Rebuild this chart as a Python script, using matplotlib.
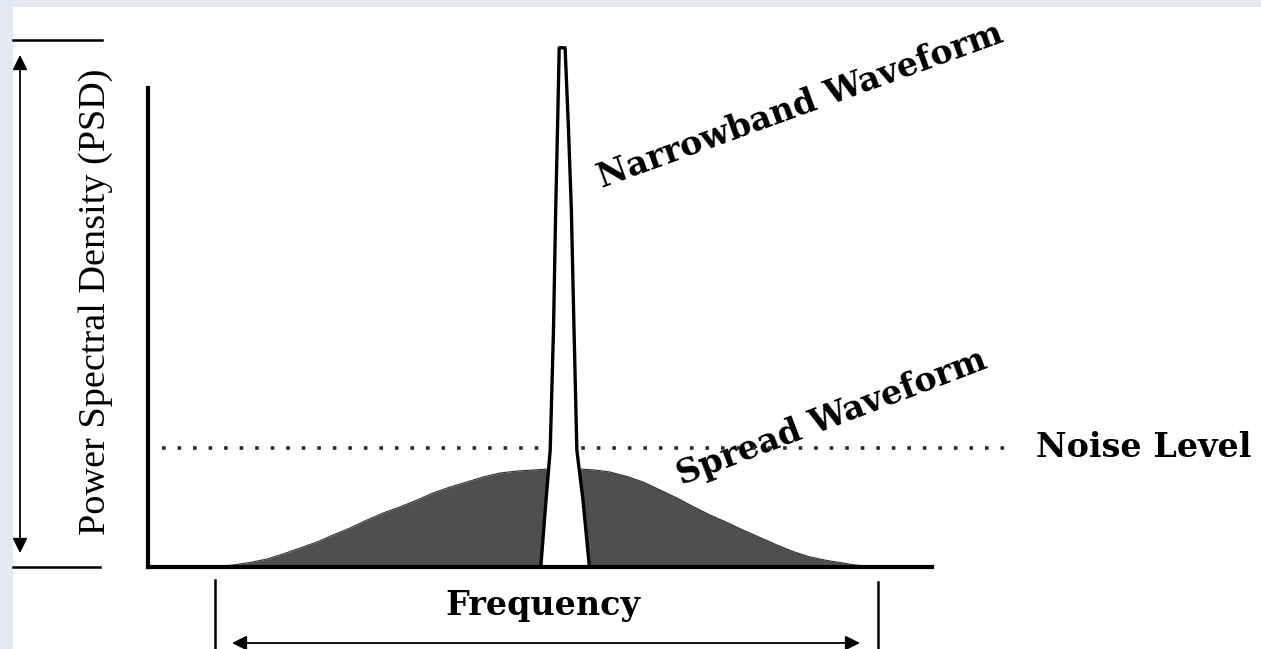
import numpy as np
import matplotlib.pyplot as plt
from matplotlib.patches import Rectangle

# ---- data (arbitrary units) -------------------------------------------------
# spread waveform: frequency vs PSD
spread_f = [8.55, 10.84, 13.01, 15.18, 17.22, 19.39, 21.56, 23.60, 25.77, 27.93,
            29.97, 32.14, 34.31, 36.35, 38.52, 40.69, 42.73, 44.90, 47.07, 49.11,
            51.02, 55.10, 57.02, 58.93, 61.10, 63.14, 65.31, 67.47, 69.52, 71.68,
            73.85, 75.89, 78.06, 80.23, 82.27, 84.44, 86.61, 88.65, 89.80, 90.82,
            92.09]
spread_p = [0.0, 0.42, 0.94, 1.67, 2.71, 3.97, 5.22, 6.68, 8.14, 9.81,
            11.27, 12.53, 13.99, 15.45, 16.70, 17.75, 18.79, 19.62, 20.04, 20.25,
            20.46, 20.46, 20.25, 19.83, 18.89, 17.75, 16.08, 14.41, 12.63, 10.86,
            9.29, 7.72, 6.16, 4.59, 3.24, 2.09, 1.36, 0.84, 0.52, 0.31,
            0.0]
# narrowband waveform: outline of the spike
narrow_f = [50.1, 50.77, 51.3, 51.72, 52.0, 52.23, 52.45,
            53.2, 53.64, 54.0, 54.34, 54.7, 55.48, 56.3]
narrow_p = [0.0, 14.0, 24.4, 49.5, 74.5, 91.2, 108.4,
            108.4, 91.2, 74.5, 49.5, 24.4, 14.0, 0.0]
noise_level = 24.8

labels = {'y': 'Power Spectral Density (PSD)', 'x': 'Frequency',
          'noise': 'Noise Level', 'narrow': 'Narrowband Waveform',
          'spread': 'Spread Waveform'}

W, H = 1261, 649
fig = plt.figure(figsize=(W / 100, H / 100), dpi=100)
fig.patch.set_facecolor('#e3e9f4')

# background / annotation layer in pixel coordinates
bg = fig.add_axes([0, 0, 1, 1])
bg.set_xlim(0, W)
bg.set_ylim(H, 0)
bg.axis('off')
bg.add_patch(Rectangle((13, 7), W - 13, H - 7, facecolor='white', edgecolor='none', zorder=0))

# main axes
L, R, B, T = 148, 932, 567, 88
ax = fig.add_axes([L / W, (H - B) / H, (R - L) / W, (B - T) / H])
ax.set_facecolor('none')
ax.set_xlim(0, 100)
ax.set_ylim(0, 100)
for s in ['top', 'right']:
    ax.spines[s].set_visible(False)
for s in ['left', 'bottom']:
    ax.spines[s].set_linewidth(3.0)
    ax.spines[s].set_color('black')
    ax.spines[s].set_capstyle('projecting')
ax.set_xticks([])
ax.set_yticks([])

ax.fill_between(spread_f, spread_p, 0, color='#4f4f4f', lw=0, zorder=2)
ax.plot(spread_f, spread_p, color='#333333', lw=0.8, zorder=2)
ax.fill(narrow_f, narrow_p, facecolor='white', edgecolor='black', lw=2.4,
        joinstyle='round', clip_on=False, zorder=2.4)
ax.axhline(noise_level, xmin=0.018, xmax=1.093, color='#2a2a2a', lw=2.6,
           linestyle=(0, (1, 3.3)), clip_on=False, zorder=1)

# dimension lines
kw = dict(color='black', lw=1.8)
bg.plot([13, 102], [40, 40], **kw)
bg.plot([13, 100], [567, 567], **kw)
bg.annotate('', xy=(20, 55), xytext=(20, 553),
            arrowprops=dict(arrowstyle='<|-|>', color='black', lw=1.3,
                            mutation_scale=22, shrinkA=0, shrinkB=0))
bg.plot([215, 215], [580, 649], **kw)
bg.plot([878, 878], [582, 649], **kw)
bg.annotate('', xy=(232, 643), xytext=(860, 643),
            arrowprops=dict(arrowstyle='<|-|>', color='black', lw=1.3,
                            mutation_scale=22, shrinkA=0, shrinkB=0))

# text
bg.text(96, 302, labels['y'], rotation=90, ha='center', va='center',
        family='Liberation Serif', fontsize=27.5)
bold = dict(family='DejaVu Serif', fontweight='bold', fontsize=24)
bg.text(543, 615, labels['x'], ha='center', va='baseline', **bold)
bg.text(1144, 457, labels['noise'], ha='center', va='baseline', **bold)
bg.text(800, 106, labels['narrow'], ha='center', va='center', rotation=20,
        rotation_mode='anchor', **bold)
bg.text(832, 418, labels['spread'], ha='center', va='center', rotation=21,
        rotation_mode='anchor', **bold)

fig.savefig('out.png', dpi=100, facecolor=fig.get_facecolor())
